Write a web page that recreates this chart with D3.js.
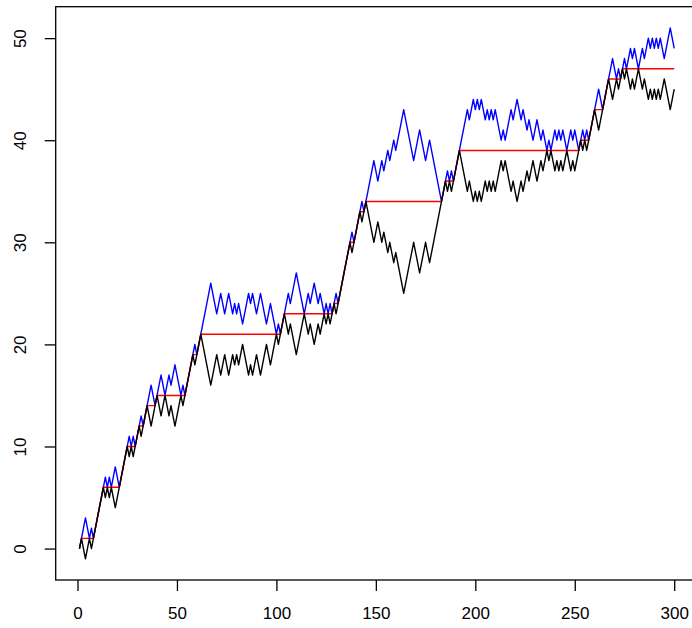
<!DOCTYPE html>
<html lang="en">
<head>
<meta charset="UTF-8">
<title>Random walk, running maximum and reflected path</title>
<script src="https://d3js.org/d3.v7.min.js"></script>
<style>
  html, body { margin: 0; padding: 0; background: #fff; }
  svg { display: block; }
  .axis text { font-family: "Liberation Sans", Arial, sans-serif; font-size: 17px; fill: #000; }
  .axis line { stroke: #000; stroke-width: 1.3px; }
</style>
</head>
<body>
<svg id="chart" width="692" height="628"></svg>
<script>
// step index 1..300
const steps = d3.range(1, 301);

// the walk itself (black)
const walk = [
  0,1,0,-1,0,1,0,1,2,3,
  4,5,6,5,6,5,6,5,4,5,
  6,7,8,9,10,9,10,9,10,11,
  12,11,12,13,14,13,12,13,14,15,
  14,13,14,15,14,13,14,13,12,13,
  14,15,14,15,16,17,18,19,18,19,
  20,21,20,19,18,17,16,17,18,19,
  18,17,18,19,18,17,18,19,18,19,
  18,19,20,19,18,17,18,17,18,19,
  18,17,18,19,20,19,18,19,20,21,
  20,21,22,23,22,21,22,21,20,19,
  20,21,22,23,22,21,22,21,20,21,
  22,21,22,23,22,23,22,23,24,23,
  24,25,26,27,28,29,30,29,30,31,
  32,33,32,33,34,33,32,31,30,31,
  32,31,30,31,30,29,30,29,28,29,
  28,27,26,25,26,27,28,29,30,29,
  28,27,28,29,30,29,28,29,30,31,
  32,33,34,35,36,35,36,35,36,37,
  38,39,38,37,36,35,36,35,34,35,
  34,35,34,35,36,35,36,35,36,35,
  36,37,38,37,38,37,36,35,36,35,
  34,35,36,35,36,37,36,37,38,37,
  36,37,38,37,38,39,38,39,38,37,
  38,37,38,37,38,39,38,37,38,37,
  38,39,40,39,40,39,40,41,42,43,
  42,41,42,43,44,45,46,45,44,45,
  46,45,46,47,46,47,46,45,46,45,
  46,47,46,45,46,45,44,45,44,45,
  44,45,44,45,46,45,44,43,44,45
];

// running maximum (red)
const runningMax = [
  0,1,1,1,1,1,1,1,2,3,
  4,5,6,6,6,6,6,6,6,6,
  6,7,8,9,10,10,10,10,10,11,
  12,12,12,13,14,14,14,14,14,15,
  15,15,15,15,15,15,15,15,15,15,
  15,15,15,15,16,17,18,19,19,19,
  20,21,21,21,21,21,21,21,21,21,
  21,21,21,21,21,21,21,21,21,21,
  21,21,21,21,21,21,21,21,21,21,
  21,21,21,21,21,21,21,21,21,21,
  21,21,22,23,23,23,23,23,23,23,
  23,23,23,23,23,23,23,23,23,23,
  23,23,23,23,23,23,23,23,24,24,
  24,25,26,27,28,29,30,30,30,31,
  32,33,33,33,34,34,34,34,34,34,
  34,34,34,34,34,34,34,34,34,34,
  34,34,34,34,34,34,34,34,34,34,
  34,34,34,34,34,34,34,34,34,34,
  34,34,34,35,36,36,36,36,36,37,
  38,39,39,39,39,39,39,39,39,39,
  39,39,39,39,39,39,39,39,39,39,
  39,39,39,39,39,39,39,39,39,39,
  39,39,39,39,39,39,39,39,39,39,
  39,39,39,39,39,39,39,39,39,39,
  39,39,39,39,39,39,39,39,39,39,
  39,39,40,40,40,40,40,41,42,43,
  43,43,43,43,44,45,46,46,46,46,
  46,46,46,47,47,47,47,47,47,47,
  47,47,47,47,47,47,47,47,47,47,
  47,47,47,47,47,47,47,47,47,47
];

// walk reflected about its running maximum (blue)
const reflected = [
  0,1,2,3,2,1,2,1,2,3,
  4,5,6,7,6,7,6,7,8,7,
  6,7,8,9,10,11,10,11,10,11,
  12,13,12,13,14,15,16,15,14,15,
  16,17,16,15,16,17,16,17,18,17,
  16,15,16,15,16,17,18,19,20,19,
  20,21,22,23,24,25,26,25,24,23,
  24,25,24,23,24,25,24,23,24,23,
  24,23,22,23,24,25,24,25,24,23,
  24,25,24,23,22,23,24,23,22,21,
  22,21,22,23,24,25,24,25,26,27,
  26,25,24,23,24,25,24,25,26,25,
  24,25,24,23,24,23,24,23,24,25,
  24,25,26,27,28,29,30,31,30,31,
  32,33,34,33,34,35,36,37,38,37,
  36,37,38,37,38,39,38,39,40,39,
  40,41,42,43,42,41,40,39,38,39,
  40,41,40,39,38,39,40,39,38,37,
  36,35,34,35,36,37,36,37,36,37,
  38,39,40,41,42,43,42,43,44,43,
  44,43,44,43,42,43,42,43,42,43,
  42,41,40,41,40,41,42,43,42,43,
  44,43,42,43,42,41,42,41,40,41,
  42,41,40,41,40,39,40,39,40,41,
  40,41,40,41,40,39,40,41,40,41,
  40,39,40,41,40,41,40,41,42,43,
  44,45,44,43,44,45,46,47,48,47,
  46,47,46,47,48,47,48,49,48,49,
  48,47,48,49,48,49,50,49,50,49,
  50,49,50,49,48,49,50,51,50,49
];

const xTicks = [0, 50, 100, 150, 200, 250, 300];
const yTicks = [0, 10, 20, 30, 40, 50];

const svg = d3.select("#chart");

// R-style 4% padding around the data range
const x = d3.scaleLinear().domain([-10.96, 311.96]).range([55.7, 698]);
const y = d3.scaleLinear().domain([-3.08, 53.08]).range([580, 6.7]);

const line = d3.line()
    .x((d, i) => x(steps[i]))
    .y(d => y(d));

const series = [
    { values: reflected, color: "#0000ff" },
    { values: runningMax, color: "#ff0000" },
    { values: walk, color: "#000000" }
];

svg.append("g")
    .selectAll("path")
    .data(series)
    .join("path")
    .attr("d", d => line(d.values))
    .attr("fill", "none")
    .attr("stroke", d => d.color)
    .attr("stroke-width", 1.4)
    .attr("stroke-linejoin", "round");

// x axis
svg.append("g")
    .attr("class", "axis")
    .attr("transform", "translate(0,580)")
    .call(d3.axisBottom(x).tickValues(xTicks).tickSize(11).tickPadding(16).tickFormat(d3.format("d")))
    .call(g => g.select(".domain").remove());

// y axis, labels turned parallel to the axis
svg.append("g")
    .attr("class", "axis")
    .attr("transform", "translate(55.7,0)")
    .call(d3.axisLeft(y).tickValues(yTicks).tickSize(11).tickFormat(d3.format("d")))
    .call(g => g.select(".domain").remove())
    .selectAll("text")
    .attr("x", 0)
    .attr("dy", 0)
    .attr("text-anchor", "middle")
    .attr("transform", "translate(-29.5,0) rotate(-90)");

// plot box
svg.append("rect")
    .attr("x", 55.7)
    .attr("y", 6.7)
    .attr("width", 698 - 55.7)
    .attr("height", 580 - 6.7)
    .attr("fill", "none")
    .attr("stroke", "#000")
    .attr("stroke-width", 1.3);
</script>
</body>
</html>
